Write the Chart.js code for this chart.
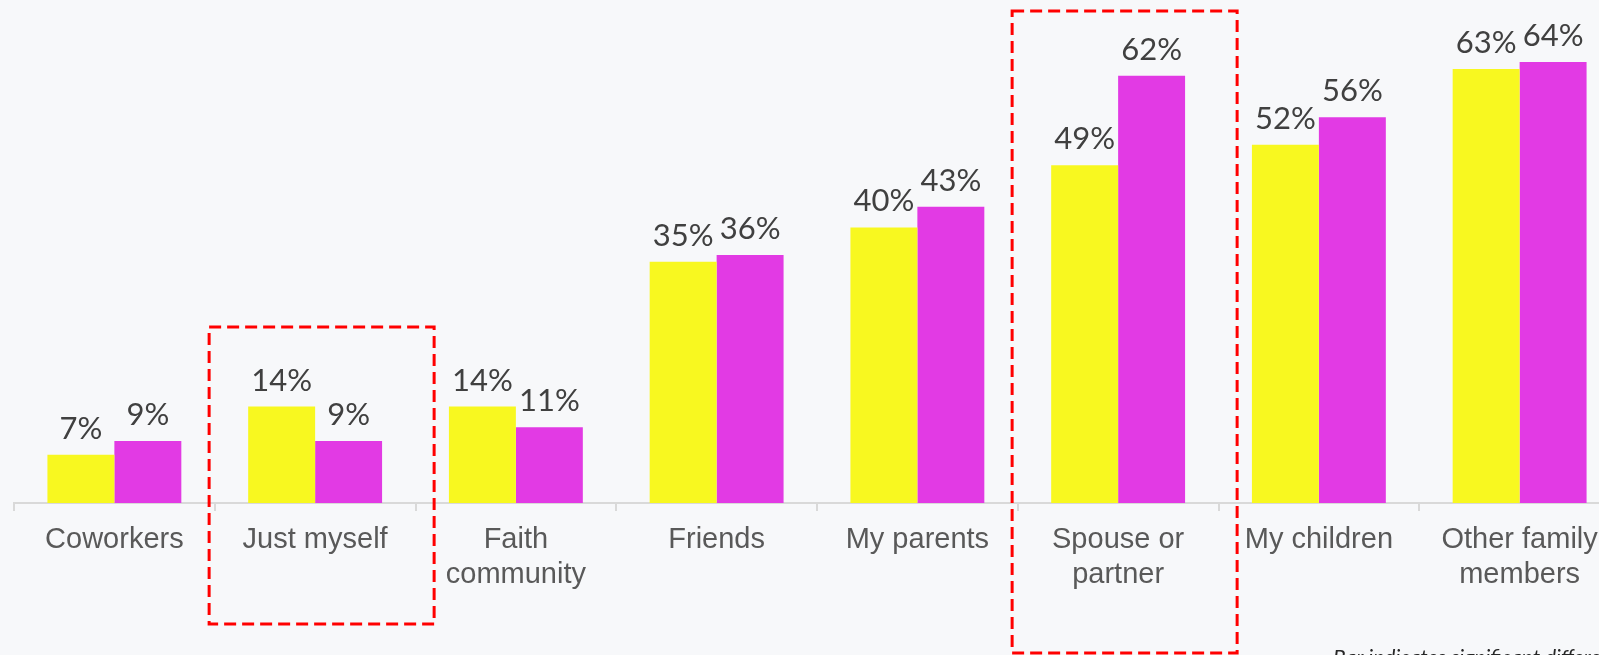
<!DOCTYPE html>
<html>
<head>
<meta charset="utf-8">
<script src="https://cdn.jsdelivr.net/npm/chart.js@4/dist/chart.umd.min.js"></script>
<style>
  html, body { margin: 0; padding: 0; background: #F7F8FA; overflow: hidden; }
  #wrap { position: relative; width: 1620px; height: 655px; }
</style>
</head>
<body>
<div id="wrap"><canvas id="supportChart"></canvas></div>
<script>
// Chart data
const categories = [
  'Coworkers', 'Just myself', ['Faith', 'community'], 'Friends',
  'My parents', ['Spouse or', 'partner'], 'My children', ['Other family', 'members']
];
const seriesNames = ['Earlier', 'Later'];
const yellowValues = [7, 14, 14, 35, 40, 49, 52, 63];
const magentaValues = [9, 9, 11, 36, 43, 62, 56, 64];
const highlighted = [1, 5];
const footnote = 'Bar indicates significant difference';

// draws the % labels above each bar
const valueLabels = {
  id: 'valueLabels',
  afterDatasetsDraw(chart) {
    const ctx = chart.ctx;
    ctx.save();
    ctx.font = '31px Lato';
    ctx.fillStyle = '#404040';
    ctx.textAlign = 'center';
    ctx.textBaseline = 'middle';
    chart.data.datasets.forEach((ds, di) => {
      chart.getDatasetMeta(di).data.forEach((bar, i) => {
        ctx.fillText(ds.data[i] + '%', bar.x, bar.y - 26);
      });
    });
    ctx.restore();
  }
};

// red dashed boxes round the highlighted categories + footnote
const highlightBoxes = {
  id: 'highlightBoxes',
  afterDraw(chart, args, opts) {
    const ctx = chart.ctx;
    const x = chart.scales.x;
    ctx.save();
    ctx.strokeStyle = '#FF0000';
    ctx.lineWidth = 3;
    ctx.setLineDash([12, 6]);
    opts.boxes.forEach(b => {
      const cx = x.getPixelForValue(b.index);
      ctx.strokeRect(cx - 106, b.top, 225, b.bottom - b.top);
    });
    ctx.setLineDash([]);
    ctx.font = 'italic 21px Lato';
    ctx.fillStyle = '#262626';
    ctx.textAlign = 'left';
    ctx.textBaseline = 'alphabetic';
    ctx.fillText(footnote, 1333, 665);
    ctx.restore();
  }
};

const ctx = document.getElementById('supportChart').getContext('2d');
new Chart(ctx, {
  type: 'bar',
  data: {
    labels: categories,
    datasets: [
      { label: seriesNames[0], data: yellowValues, backgroundColor: '#F8F820', borderWidth: 0 },
      { label: seriesNames[1], data: magentaValues, backgroundColor: '#E23AE4', borderWidth: 0 }
    ]
  },
  options: {
    responsive: true,
    maintainAspectRatio: false,
    animation: false,
    layout: { padding: { left: 14, right: 0, top: 0, bottom: 0 } },
    datasets: { bar: { categoryPercentage: 0.667, barPercentage: 1.0 } },
    plugins: {
      legend: { display: false },
      tooltip: { enabled: false },
      highlightBoxes: {
        boxes: [
          { index: highlighted[0], top: 327, bottom: 624 },
          { index: highlighted[1], top: 11, bottom: 653 }
        ]
      }
    },
    scales: {
      x: {
        offset: true,
        afterFit: (scale) => { scale.height = 152; },
        border: { display: true, color: '#D9D9D9', width: 2 },
        grid: { display: true, drawOnChartArea: false, drawTicks: true, tickLength: 8, color: '#D9D9D9', lineWidth: 2, offset: true },
        ticks: {
          color: '#595959',
          padding: 12,
          maxRotation: 0,
          autoSkip: false,
          font: { family: 'Liberation Sans', size: 29, lineHeight: 1.2 }
        }
      },
      y: {
        display: false,
        min: 0,
        max: 73
      }
    }
  },
  plugins: [valueLabels, highlightBoxes]
});
</script>
</body>
</html>
